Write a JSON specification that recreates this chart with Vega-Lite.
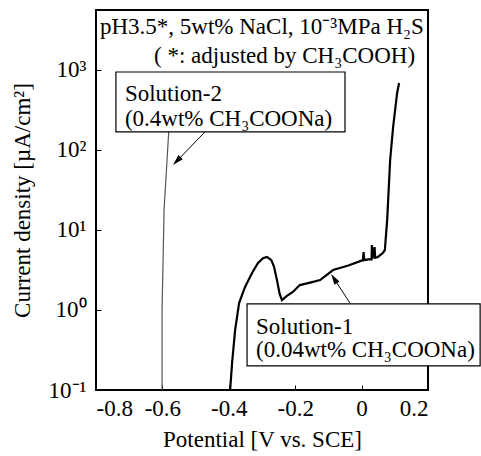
{
  "$schema": "https://vega.github.io/schema/vega-lite/v6.json",
  "width": 332,
  "height": 380,
  "autosize": {"type": "none"},
  "padding": {"left": 96, "top": 10, "right": 53, "bottom": 66},
  "background": "white",
  "config": {
    "view": {"stroke": "black", "strokeWidth": 2},
    "font": "Liberation Serif",
    "axis": {
      "domain": false,
      "grid": false,
      "ticks": true,
      "tickSize": -5,
      "tickColor": "black",
      "labelFont": "Liberation Serif",
      "labelFontSize": 23,
      "labelColor": "black",
      "titleFont": "Liberation Serif",
      "titleFontSize": 23,
      "titleFontWeight": "normal",
      "titleColor": "black"
    }
  },
  "datasets": {
    "curves": [
      {"series": "Solution-1", "idx": 1, "potential": -0.396, "current": 0.1},
      {"series": "Solution-1", "idx": 2, "potential": -0.39, "current": 0.22},
      {"series": "Solution-1", "idx": 3, "potential": -0.381, "current": 0.56},
      {"series": "Solution-1", "idx": 4, "potential": -0.369, "current": 1.22},
      {"series": "Solution-1", "idx": 5, "potential": -0.351, "current": 1.94},
      {"series": "Solution-1", "idx": 6, "potential": -0.33, "current": 2.9},
      {"series": "Solution-1", "idx": 7, "potential": -0.312, "current": 3.87},
      {"series": "Solution-1", "idx": 8, "potential": -0.297, "current": 4.45},
      {"series": "Solution-1", "idx": 9, "potential": -0.285, "current": 4.6},
      {"series": "Solution-1", "idx": 10, "potential": -0.272, "current": 4.2},
      {"series": "Solution-1", "idx": 11, "potential": -0.264, "current": 3.5},
      {"series": "Solution-1", "idx": 12, "potential": -0.255, "current": 2.37},
      {"series": "Solution-1", "idx": 13, "potential": -0.247, "current": 1.6},
      {"series": "Solution-1", "idx": 14, "potential": -0.24, "current": 1.33},
      {"series": "Solution-1", "idx": 15, "potential": -0.225, "current": 1.5},
      {"series": "Solution-1", "idx": 16, "potential": -0.207, "current": 1.68},
      {"series": "Solution-1", "idx": 17, "potential": -0.186, "current": 2.05},
      {"series": "Solution-1", "idx": 18, "potential": -0.155, "current": 2.2},
      {"series": "Solution-1", "idx": 19, "potential": -0.125, "current": 2.37},
      {"series": "Solution-1", "idx": 20, "potential": -0.086, "current": 3.16},
      {"series": "Solution-1", "idx": 21, "potential": -0.04, "current": 3.6},
      {"series": "Solution-1", "idx": 22, "potential": 0.004, "current": 4.2},
      {"series": "Solution-1", "idx": 23, "potential": 0.006, "current": 5.3},
      {"series": "Solution-1", "idx": 24, "potential": 0.008, "current": 4.2},
      {"series": "Solution-1", "idx": 25, "potential": 0.02, "current": 4.3},
      {"series": "Solution-1", "idx": 26, "potential": 0.03, "current": 4.3},
      {"series": "Solution-1", "idx": 27, "potential": 0.031, "current": 6.5},
      {"series": "Solution-1", "idx": 28, "potential": 0.033, "current": 4.4},
      {"series": "Solution-1", "idx": 29, "potential": 0.039, "current": 6.1},
      {"series": "Solution-1", "idx": 30, "potential": 0.041, "current": 4.5},
      {"series": "Solution-1", "idx": 31, "potential": 0.049, "current": 4.6},
      {"series": "Solution-1", "idx": 32, "potential": 0.064, "current": 5.16},
      {"series": "Solution-1", "idx": 33, "potential": 0.07, "current": 5.62},
      {"series": "Solution-1", "idx": 34, "potential": 0.077, "current": 13.3},
      {"series": "Solution-1", "idx": 35, "potential": 0.086, "current": 75},
      {"series": "Solution-1", "idx": 36, "potential": 0.095, "current": 194},
      {"series": "Solution-1", "idx": 37, "potential": 0.107, "current": 516},
      {"series": "Solution-1", "idx": 38, "potential": 0.113, "current": 688},
      {"series": "Solution-2", "idx": 1, "potential": -0.601, "current": 0.1},
      {"series": "Solution-2", "idx": 2, "potential": -0.601, "current": 1},
      {"series": "Solution-2", "idx": 3, "potential": -0.598, "current": 4.2},
      {"series": "Solution-2", "idx": 4, "potential": -0.595, "current": 17.8},
      {"series": "Solution-2", "idx": 5, "potential": -0.586, "current": 75},
      {"series": "Solution-2", "idx": 6, "potential": -0.581, "current": 168}
    ],
    "boxes": [
      {"name": "Solution-2", "x1": -0.74, "x2": -0.05, "y1": 944, "y2": 168},
      {"name": "Solution-1", "x1": -0.345, "x2": 0.357, "y1": 1.19, "y2": 0.2}
    ],
    "labels": [
      {"text": "pH3.5*, 5wt% NaCl, 10⁻³MPa H₂S", "x": -0.788, "y": 2818, "side": "left"},
      {"text": "( *: adjusted by CH₃COOH)", "x": 0.161, "y": 1223, "side": "right"},
      {"text": "Solution-2", "x": -0.713, "y": 410, "side": "left"},
      {"text": "(0.4wt% CH₃COONa)", "x": -0.713, "y": 200, "side": "left"},
      {"text": "Solution-1", "x": -0.318, "y": 0.501, "side": "left"},
      {"text": "(0.04wt% CH₃COONa)", "x": -0.318, "y": 0.259, "side": "left"}
    ],
    "arrows": [
      {"name": "Solution-2", "x1": -0.472, "y1": 168, "x2": -0.5566, "y2": 72.6},
      {"name": "Solution-1", "x1": -0.035, "y1": 1.22, "x2": -0.0831, "y2": 2.47}
    ]
  },
  "layer": [
    {
      "data": {"name": "curves"},
      "mark": {"type": "line", "clip": true},
      "encoding": {
        "x": {
          "field": "potential", "type": "quantitative",
          "scale": {"domain": [-0.8, 0.2], "nice": false, "zero": false},
          "axis": {
            "title": "Potential [V vs. SCE]",
            "values": [-0.8, -0.6, -0.4, -0.2, 0, 0.2],
            "labelExpr": "datum.value == 0 ? '0' : (datum.value < 0 ? '-' : '') + format(abs(datum.value), '.1f')",
            "labelPadding": 12,
            "titlePadding": 8
          }
        },
        "y": {
          "field": "current", "type": "quantitative",
          "scale": {"type": "log", "domain": [0.1, 5623], "nice": false},
          "axis": {
            "title": "Current density [µA/cm²]",
            "values": [0.1, 1, 10, 100, 1000],
            "labelExpr": "datum.value < 0.5 ? '10⁻¹' : datum.value < 5 ? '10⁰' : datum.value < 50 ? '10¹' : datum.value < 500 ? '10²' : '10³'",
            "labelPadding": 15,
            "titlePadding": 14
          }
        },
        "order": {"field": "idx", "type": "quantitative"},
        "detail": {"field": "series"},
        "color": {"field": "series", "type": "nominal", "scale": {"domain": ["Solution-1", "Solution-2"], "range": ["#000000", "#555555"]}, "legend": null},
        "strokeWidth": {"field": "series", "type": "nominal", "scale": {"domain": ["Solution-1", "Solution-2"], "range": [2.2, 1.2]}, "legend": null}
      }
    },
    {
      "data": {"name": "boxes"},
      "mark": {"type": "rect", "fill": "white", "stroke": "black", "strokeWidth": 1.2},
      "encoding": {
        "x": {"field": "x1", "type": "quantitative"},
        "x2": {"field": "x2"},
        "y": {"field": "y1", "type": "quantitative"},
        "y2": {"field": "y2"}
      }
    },
    {
      "data": {"name": "labels"},
      "transform": [{"filter": "datum.side == 'left'"}],
      "mark": {"type": "text", "align": "left", "baseline": "alphabetic", "font": "Liberation Serif", "fontSize": 23, "color": "black"},
      "encoding": {
        "x": {"field": "x", "type": "quantitative"},
        "y": {"field": "y", "type": "quantitative"},
        "text": {"field": "text"}
      }
    },
    {
      "data": {"name": "labels"},
      "transform": [{"filter": "datum.side == 'right'"}],
      "mark": {"type": "text", "align": "right", "baseline": "alphabetic", "font": "Liberation Serif", "fontSize": 23, "color": "black"},
      "encoding": {
        "x": {"field": "x", "type": "quantitative"},
        "y": {"field": "y", "type": "quantitative"},
        "text": {"field": "text"}
      }
    },
    {
      "data": {"name": "arrows"},
      "mark": {"type": "rule", "color": "black", "strokeWidth": 1},
      "encoding": {
        "x": {"field": "x1", "type": "quantitative"},
        "y": {"field": "y1", "type": "quantitative"},
        "x2": {"field": "x2"},
        "y2": {"field": "y2"}
      }
    },
    {
      "data": {"name": "arrows"},
      "transform": [{"filter": "datum.name == 'Solution-2'"}],
      "mark": {"type": "point", "shape": "M0,-1L0.55,1L-0.55,1Z", "filled": true, "color": "black", "size": 120, "angle": 224, "opacity": 1},
      "encoding": {
        "x": {"field": "x2", "type": "quantitative"},
        "y": {"field": "y2", "type": "quantitative"}
      }
    },
    {
      "data": {"name": "arrows"},
      "transform": [{"filter": "datum.name == 'Solution-1'"}],
      "mark": {"type": "point", "shape": "M0,-1L0.55,1L-0.55,1Z", "filled": true, "color": "black", "size": 120, "angle": 327, "opacity": 1},
      "encoding": {
        "x": {"field": "x2", "type": "quantitative"},
        "y": {"field": "y2", "type": "quantitative"}
      }
    }
  ]
}
